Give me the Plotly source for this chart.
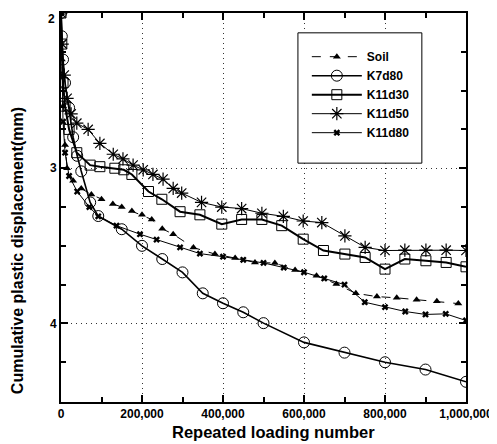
import plotly.graph_objects as go

# ---- data ----
soil_x = [0, 2000, 5000, 10000, 15000, 30000, 50000, 75000, 100000, 128000, 150000, 175000,
          200000, 224000, 250000, 277000, 327000, 380000, 430000, 479000, 528000, 578000,
          631000, 680000, 728000, 780000, 829000, 878000, 928000, 981000]
soil_y = [2.0, 2.3, 2.6, 2.85, 3.0, 3.08, 3.13, 3.17, 3.2, 3.23, 3.25, 3.276,
          3.3, 3.33, 3.39, 3.425, 3.511, 3.553, 3.579, 3.607, 3.611, 3.656,
          3.692, 3.746, 3.806, 3.827, 3.835, 3.848, 3.857, 3.872]

k7d80_x = [0, 2000, 5000, 10000, 20000, 30000, 40000, 50000, 72000, 92000, 150000, 200000,
           250000, 300000, 350000, 400000, 450000, 500000, 600000, 700000, 800000, 900000, 1000000]
k7d80_y = [2.0, 2.15, 2.3, 2.45, 2.61, 2.8, 2.92, 3.02, 3.22, 3.308, 3.393, 3.5,
           3.585, 3.671, 3.806, 3.87, 3.928, 3.998, 4.122, 4.188, 4.25, 4.297, 4.376]

k11d30_x = [0, 2000, 5000, 10000, 20000, 39000, 72000, 96000, 133000, 155000, 175000, 216000,
            249000, 294000, 343000, 397000, 446000, 496000, 545000, 598000, 648000, 701000,
            751000, 800000, 849000, 901000, 951000, 1000000]
k11d30_y = [2.0, 2.2, 2.45, 2.6, 2.75, 2.9, 2.98, 2.99, 3.0, 3.01, 3.04, 3.15,
            3.2, 3.28, 3.3, 3.36, 3.33, 3.33, 3.37, 3.457, 3.53, 3.553,
            3.575, 3.65, 3.585, 3.596, 3.607, 3.635]

k11d50_x = [0, 3000, 8000, 15000, 25000, 39000, 67000, 96000, 129000, 153000, 178000, 203000,
            227000, 252000, 277000, 298000, 347000, 397000, 446000, 496000, 549000, 598000,
            644000, 701000, 751000, 800000, 849000, 901000, 951000, 1000000]
k11d50_y = [2.0, 2.2, 2.4, 2.55, 2.65, 2.71, 2.75, 2.84, 2.91, 2.94, 2.98, 3.01,
            3.04, 3.07, 3.13, 3.16, 3.22, 3.25, 3.26, 3.29, 3.31, 3.34,
            3.35, 3.436, 3.51, 3.53, 3.528, 3.528, 3.528, 3.53]

k11d80_x = [0, 2000, 5000, 10000, 20000, 40000, 70000, 92000, 137000, 195000, 236000, 294000,
            343000, 400000, 450000, 500000, 550000, 600000, 650000, 700000, 750000, 800000,
            850000, 900000, 950000, 1000000]
k11d80_y = [2.0, 2.4, 2.7, 2.9, 3.05, 3.15, 3.25, 3.31, 3.37, 3.425, 3.46, 3.51,
            3.55, 3.57, 3.59, 3.61, 3.64, 3.67, 3.71, 3.75, 3.863, 3.895,
            3.923, 3.942, 3.938, 3.981]

x_tick_vals = [0, 200000, 400000, 600000, 800000, 1000000]
x_tick_text = ["0", "200,000", "400,000", "600,000", "800,000", "1,000,000"]
y_tick_vals = [3, 4]
y_tick_text = ["3", "4"]
y_top_label = "2"   # label of the top tick (drawn as an annotation so it is not clipped)

FONT = "Liberation Sans, Arial, sans-serif"

fig = go.Figure()
fig.add_trace(go.Scatter(x=soil_x, y=soil_y, name="Soil", mode="lines+markers",
                         line=dict(color="black", width=1, dash="dash"),
                         marker=dict(symbol="triangle-up", size=7, color="black")))
fig.add_trace(go.Scatter(x=k7d80_x, y=k7d80_y, name="K7d80", mode="lines+markers",
                         line=dict(color="black", width=1.6),
                         marker=dict(symbol="circle-open", size=11, color="black",
                                     line=dict(width=1))))
fig.add_trace(go.Scatter(x=k11d30_x, y=k11d30_y, name="K11d30", mode="lines+markers",
                         line=dict(color="black", width=2),
                         marker=dict(symbol="square-open", size=10, color="black",
                                     line=dict(width=1))))
fig.add_trace(go.Scatter(x=k11d50_x, y=k11d50_y, name="K11d50", mode="lines+markers",
                         line=dict(color="black", width=1),
                         marker=dict(symbol="asterisk-open", size=11, color="black",
                                     line=dict(width=1.2, color="black"))))
fig.add_trace(go.Scatter(x=k11d80_x, y=k11d80_y, name="K11d80", mode="lines+markers",
                         line=dict(color="black", width=1),
                         marker=dict(symbol="x", size=6, color="black")))

grid_style = dict(showgrid=True, gridcolor="#333333", griddash="1px,4px", gridwidth=1)

# page body has an 8px margin, so the figure is sized to fit the 497x444 window
fig.update_layout(
    width=489, height=436,
    margin=dict(l=53, r=31, t=3, b=42),
    paper_bgcolor="white", plot_bgcolor="white",
    font=dict(family=FONT, color="black", size=12),
    showlegend=True,
    legend=dict(x=0.607, y=0.925, xanchor="left", yanchor="top",
                borderwidth=0, bgcolor="rgba(0,0,0,0)",
                font=dict(family=FONT, size=12, weight="bold"),
                itemwidth=50),
    shapes=[dict(type="rect", xref="paper", yref="paper",
                 x0=0.585, x1=0.891, y0=0.614, y1=0.949,
                 line=dict(color="black", width=1), fillcolor="white", layer="above")],
    annotations=[
        dict(text="Cumulative plastic displacement(mm)", xref="paper", yref="paper",
             x=-0.109, y=0.39, xanchor="center", yanchor="middle", textangle=-90,
             showarrow=False, font=dict(family=FONT, size=16, weight="bold")),
        dict(text="Repeated loading number", xref="paper", yref="paper",
             x=0.524, y=-0.077, xanchor="center", yanchor="middle",
             showarrow=False, font=dict(family=FONT, size=16.5, weight="bold")),
        dict(text=y_top_label, xref="paper", yref="paper", x=0, y=1,
             xanchor="right", yanchor="top", xshift=-4, yshift=3,
             showarrow=False, font=dict(family=FONT, size=12, weight="bold")),
    ],
)
fig.update_xaxes(
    range=[0, 1000000], tickmode="array", tickvals=x_tick_vals, ticktext=x_tick_text,
    ticks="inside", ticklen=7, tickwidth=2, tickcolor="black",
    showline=True, linewidth=2, linecolor="black", mirror="ticks",
    zeroline=False, **grid_style,
    minor=dict(dtick=100000, tick0=0, ticks="inside", ticklen=5, tickcolor="black", showgrid=False),
    tickfont=dict(family=FONT, size=12, weight="bold"),
)
fig.update_yaxes(
    range=[4.506, 2.0], tickmode="array", tickvals=y_tick_vals, ticktext=y_tick_text,
    ticks="inside", ticklen=7, tickwidth=2, tickcolor="black",
    showline=True, linewidth=2, linecolor="black", mirror="ticks",
    zeroline=False, **grid_style,
    minor=dict(dtick=0.25, tick0=2, ticks="inside", ticklen=5, tickcolor="black", showgrid=False),
    tickfont=dict(family=FONT, size=12, weight="bold"),
)

fig.write_html("out.html")
